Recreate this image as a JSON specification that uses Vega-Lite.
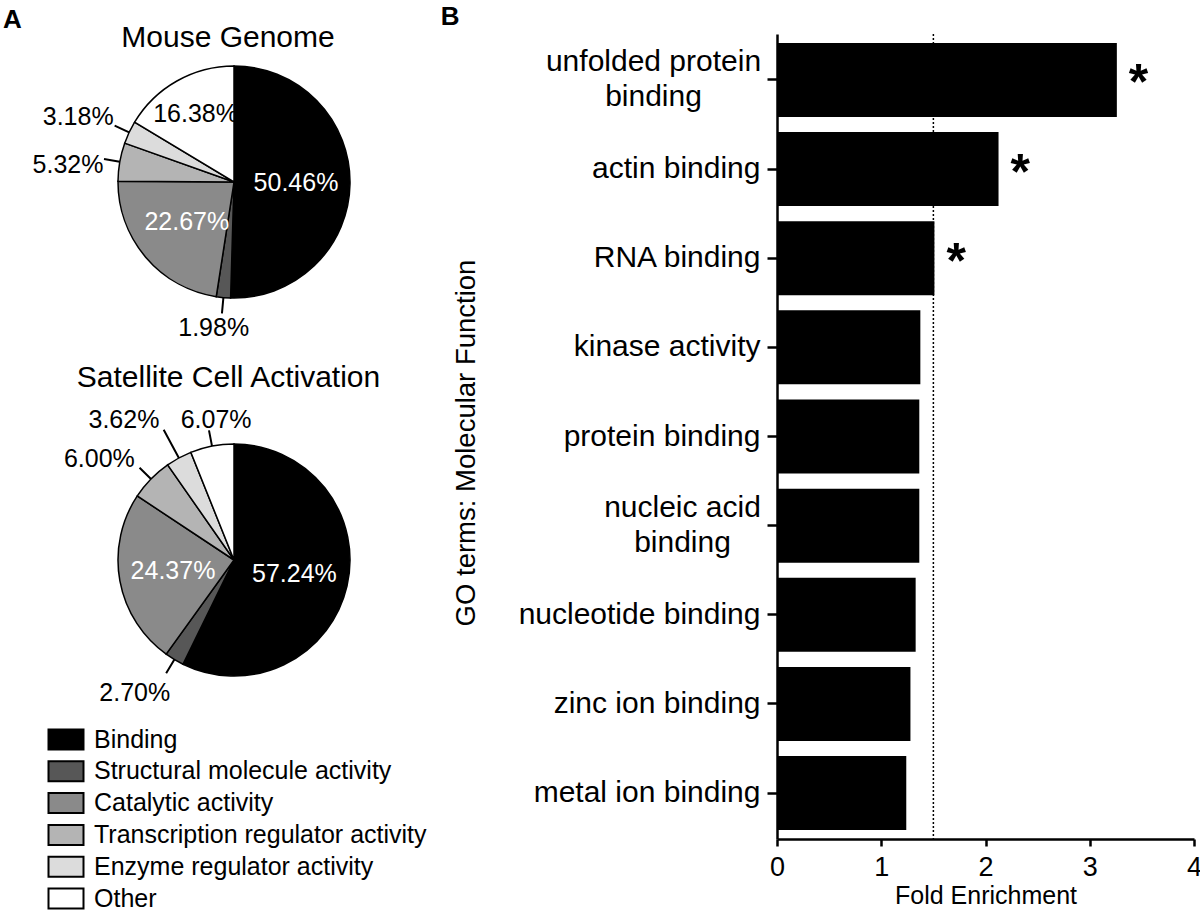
{
  "$schema": "https://vega.github.io/schema/vega-lite/v6.json",
  "background": "white",
  "padding": {"left": 2, "top": 4, "right": 0, "bottom": 0},
  "config": {
    "font": "Liberation Sans",
    "view": {"stroke": null},
    "title": {"color": "black", "font": "Liberation Sans"},
    "axis": {"labelFont": "Liberation Sans", "titleFont": "Liberation Sans", "labelColor": "black", "titleColor": "black", "grid": false}
  },
  "datasets": {
    "pies": [
      {"chart": "Mouse Genome", "cat": "Binding", "k": 1, "share": 0.5046},
      {"chart": "Mouse Genome", "cat": "Structural molecule activity", "k": 2, "share": 0.0198},
      {"chart": "Mouse Genome", "cat": "Catalytic activity", "k": 3, "share": 0.2267},
      {"chart": "Mouse Genome", "cat": "Transcription regulator activity", "k": 4, "share": 0.0532},
      {"chart": "Mouse Genome", "cat": "Enzyme regulator activity", "k": 5, "share": 0.0318},
      {"chart": "Mouse Genome", "cat": "Other", "k": 6, "share": 0.1638},
      {"chart": "Satellite Cell Activation", "cat": "Binding", "k": 1, "share": 0.5724},
      {"chart": "Satellite Cell Activation", "cat": "Structural molecule activity", "k": 2, "share": 0.0270},
      {"chart": "Satellite Cell Activation", "cat": "Catalytic activity", "k": 3, "share": 0.2437},
      {"chart": "Satellite Cell Activation", "cat": "Transcription regulator activity", "k": 4, "share": 0.0600},
      {"chart": "Satellite Cell Activation", "cat": "Enzyme regulator activity", "k": 5, "share": 0.0362},
      {"chart": "Satellite Cell Activation", "cat": "Other", "k": 6, "share": 0.0607}
    ],
    "terms": [
      {"term": "unfolded protein binding", "fold": 3.26, "sig": "*"},
      {"term": "actin binding", "fold": 2.125, "sig": "*"},
      {"term": "RNA binding", "fold": 1.51, "sig": "*"},
      {"term": "kinase activity", "fold": 1.375, "sig": ""},
      {"term": "protein binding", "fold": 1.365, "sig": ""},
      {"term": "nucleic acid binding", "fold": 1.365, "sig": ""},
      {"term": "nucleotide binding", "fold": 1.33, "sig": ""},
      {"term": "zinc ion binding", "fold": 1.28, "sig": ""},
      {"term": "metal ion binding", "fold": 1.24, "sig": ""}
    ]
  },
  "spacing": 36,
  "hconcat": [
    {
      "title": {"text": "A", "anchor": "start", "frame": "bounds", "fontSize": 26, "fontWeight": "bold", "dx": -29.6, "offset": -30.7, "baseline": "alphabetic"},
      "spacing": 82,
      "bounds": "flush",
      "vconcat": [
        {
          "width": 340, "height": 296,
          "title": {"text": "Mouse Genome", "fontSize": 30, "fontWeight": "normal", "anchor": "middle", "frame": "group", "dx": -6, "offset": -43, "baseline": "alphabetic"},
          "data": {"name": "pies"},
          "transform": [{"filter": "datum.chart == 'Mouse Genome'"}],
          "encoding": {
            "theta": {"field": "share", "type": "quantitative", "stack": true},
            "order": {"field": "k", "type": "quantitative"},
            "detail": {"field": "cat", "type": "nominal"}
          },
          "layer": [
            {"mark": {"type": "arc", "radius": 116, "stroke": "black", "strokeWidth": 1.5},
             "encoding": {"color": {"field": "cat", "type": "nominal",
               "scale": {"domain": ["Binding", "Structural molecule activity", "Catalytic activity", "Transcription regulator activity", "Enzyme regulator activity", "Other"], "range": ["#000000", "#575757", "#8a8a8a", "#b4b4b4", "#dcdcdc", "#ffffff"]},
               "legend": {"title": null, "orient": "none", "legendX": -18, "legendY": 693, "symbolType": "M-1,-1H2.5V1H-1Z", "symbolSize": 400, "symbolStrokeColor": "black", "symbolStrokeWidth": 2, "symbolOpacity": 1, "labelFontSize": 25, "labelFont": "Liberation Sans", "labelColor": "black", "labelOffset": 23, "rowPadding": 2.8, "padding": 0, "labelLimit": 600}}}},
            {"mark": {"type": "arc", "radius": 132, "radius2": 116, "padAngle": 3.14, "stroke": "black", "strokeWidth": 2, "fill": "transparent"},
             "encoding": {"strokeOpacity": {"condition": {"test": "datum.share < 0.1", "value": 1}, "value": 0}}},
            {"mark": {"type": "text", "radius": 62, "color": "white", "align": "center", "baseline": "middle"},
             "encoding": {"text": {"condition": {"test": "datum.share >= 0.1 && datum.cat != 'Other'", "field": "share", "type": "quantitative", "format": ".2%"}, "value": ""},
                          "size": {"condition": {"test": "datum.share >= 0.1 && datum.cat != 'Other'", "value": 25}, "value": 0}}},
            {"mark": {"type": "text", "radius": 78, "color": "black", "align": "center", "baseline": "middle"},
             "encoding": {"text": {"condition": {"test": "datum.cat == 'Other'", "field": "share", "type": "quantitative", "format": ".2%"}, "value": ""},
                          "size": {"condition": {"test": "datum.cat == 'Other'", "value": 25}, "value": 0}}},
            {"mark": {"type": "text", "radius": 169, "dx": -3, "dy": 7.5, "color": "black", "align": "center", "baseline": "middle"},
             "encoding": {"text": {"condition": {"test": "datum.cat == 'Enzyme regulator activity'", "field": "share", "type": "quantitative", "format": ".2%"}, "value": ""},
                          "size": {"condition": {"test": "datum.cat == 'Enzyme regulator activity'", "value": 25}, "value": 0}}},
            {"mark": {"type": "text", "radius": 167, "dx": -1.5, "dy": 12, "color": "black", "align": "center", "baseline": "middle"},
             "encoding": {"text": {"condition": {"test": "datum.cat == 'Transcription regulator activity'", "field": "share", "type": "quantitative", "format": ".2%"}, "value": ""},
                          "size": {"condition": {"test": "datum.cat == 'Transcription regulator activity'", "value": 25}, "value": 0}}},
            {"mark": {"type": "text", "radius": 146, "dx": -7, "dy": 0.5, "color": "black", "align": "center", "baseline": "middle"},
             "encoding": {"text": {"condition": {"test": "datum.cat == 'Structural molecule activity'", "field": "share", "type": "quantitative", "format": ".2%"}, "value": ""},
                          "size": {"condition": {"test": "datum.cat == 'Structural molecule activity'", "value": 25}, "value": 0}}}
          ]
        },
        {
          "width": 340, "height": 296,
          "title": {"text": "Satellite Cell Activation", "fontSize": 30, "fontWeight": "normal", "anchor": "middle", "frame": "group", "dx": -5.5, "offset": -25.2, "baseline": "alphabetic"},
          "data": {"name": "pies"},
          "transform": [{"filter": "datum.chart == 'Satellite Cell Activation'"}],
          "encoding": {
            "theta": {"field": "share", "type": "quantitative", "stack": true},
            "order": {"field": "k", "type": "quantitative"},
            "detail": {"field": "cat", "type": "nominal"}
          },
          "layer": [
            {"mark": {"type": "arc", "radius": 116, "stroke": "black", "strokeWidth": 1.5},
             "encoding": {"color": {"field": "cat", "type": "nominal",
               "scale": {"domain": ["Binding", "Structural molecule activity", "Catalytic activity", "Transcription regulator activity", "Enzyme regulator activity", "Other"], "range": ["#000000", "#575757", "#8a8a8a", "#b4b4b4", "#dcdcdc", "#ffffff"]},
               "legend": {"title": null, "orient": "none", "legendX": -18, "legendY": 693, "symbolType": "M-1,-1H2.5V1H-1Z", "symbolSize": 400, "symbolStrokeColor": "black", "symbolStrokeWidth": 2, "symbolOpacity": 1, "labelFontSize": 25, "labelFont": "Liberation Sans", "labelColor": "black", "labelOffset": 23, "rowPadding": 2.8, "padding": 0, "labelLimit": 600}}}},
            {"mark": {"type": "arc", "radius": 132, "radius2": 116, "padAngle": 3.14, "stroke": "black", "strokeWidth": 2, "fill": "transparent"},
             "encoding": {"strokeOpacity": {"condition": {"test": "datum.share < 0.1 && datum.cat != 'Enzyme regulator activity'", "value": 1}, "value": 0}}},
            {"mark": {"type": "arc", "radius": 148, "radius2": 116, "padAngle": 3.14, "stroke": "black", "strokeWidth": 2, "fill": "transparent"},
             "encoding": {"strokeOpacity": {"condition": {"test": "datum.cat == 'Enzyme regulator activity'", "value": 1}, "value": 0}}},
            {"mark": {"type": "text", "radius": 62, "color": "white", "align": "center", "baseline": "middle"},
             "encoding": {"text": {"condition": {"test": "datum.share >= 0.1", "field": "share", "type": "quantitative", "format": ".2%"}, "value": ""},
                          "size": {"condition": {"test": "datum.share >= 0.1", "value": 25}, "value": 0}}},
            {"mark": {"type": "text", "radius": 142, "dx": 9, "dy": -0.5, "color": "black", "align": "center", "baseline": "middle"},
             "encoding": {"text": {"condition": {"test": "datum.cat == 'Other'", "field": "share", "type": "quantitative", "format": ".2%"}, "value": ""},
                          "size": {"condition": {"test": "datum.cat == 'Other'", "value": 25}, "value": 0}}},
            {"mark": {"type": "text", "radius": 179, "dx": -25, "dy": 17.5, "color": "black", "align": "center", "baseline": "middle"},
             "encoding": {"text": {"condition": {"test": "datum.cat == 'Enzyme regulator activity'", "field": "share", "type": "quantitative", "format": ".2%"}, "value": ""},
                          "size": {"condition": {"test": "datum.cat == 'Enzyme regulator activity'", "value": 25}, "value": 0}}},
            {"mark": {"type": "text", "radius": 170, "dx": -13, "dy": 17.5, "color": "black", "align": "center", "baseline": "middle"},
             "encoding": {"text": {"condition": {"test": "datum.cat == 'Transcription regulator activity'", "field": "share", "type": "quantitative", "format": ".2%"}, "value": ""},
                          "size": {"condition": {"test": "datum.cat == 'Transcription regulator activity'", "value": 25}, "value": 0}}},
            {"mark": {"type": "text", "radius": 164, "dx": -15, "dy": -7.2, "color": "black", "align": "center", "baseline": "middle"},
             "encoding": {"text": {"condition": {"test": "datum.cat == 'Structural molecule activity'", "field": "share", "type": "quantitative", "format": ".2%"}, "value": ""},
                          "size": {"condition": {"test": "datum.cat == 'Structural molecule activity'", "value": 25}, "value": 0}}}
          ]
        }
      ]
    },
    {
      "width": 417, "height": 805,
      "title": {"text": "B", "anchor": "start", "frame": "bounds", "fontSize": 26, "fontWeight": "bold", "dx": -11.5, "offset": -18, "baseline": "alphabetic"},
      "data": {"name": "terms"},
      "layer": [
        {"mark": {"type": "bar", "color": "black"},
         "encoding": {
           "y": {"field": "term", "type": "nominal", "sort": null,
                 "scale": {"paddingInner": 0.17, "paddingOuter": 0.1},
                 "axis": {"title": "GO terms: Molecular Function", "titleFontSize": 27.5, "titleFontWeight": "normal", "titlePadding": 38, "maxExtent": 400, "titleY": 408.5,
                          "labelFontSize": 30, "labelLimit": 500, "labelLineHeight": 35, "labelBaseline": "middle",
                          "labelAlign": {"condition": {"test": "datum.value == 'unfolded protein binding' || datum.value == 'nucleic acid binding'", "value": "center"}, "value": "right"},
                          "labelPadding": {"condition": [{"test": "datum.value == 'unfolded protein binding'", "value": 114}, {"test": "datum.value == 'nucleic acid binding'", "value": 85}], "value": 7},
                          "labelOffset": {"condition": {"test": "datum.value == 'unfolded protein binding' || datum.value == 'nucleic acid binding'", "value": -17.5}, "value": 0},
                          "labelExpr": "datum.value == 'unfolded protein binding' ? ['unfolded protein', 'binding'] : datum.value == 'nucleic acid binding' ? ['nucleic acid', 'binding'] : datum.value",
                          "domainColor": "black", "domainWidth": 2.5, "tickColor": "black", "tickWidth": 2.5, "tickSize": 10}},
           "x": {"field": "fold", "type": "quantitative",
                 "scale": {"domain": [0, 4], "nice": false},
                 "axis": {"title": "Fold Enrichment", "titleFontSize": 25, "titleFontWeight": "normal", "titlePadding": 3, "format": "d",
                          "values": [0, 1, 2, 3, 4], "labelFontSize": 27, "labelPadding": 8, "labelFlush": false,
                          "domainColor": "black", "domainWidth": 2.5, "tickColor": "black", "tickWidth": 2.5, "tickSize": 7}}
         }},
        {"data": {"values": [{"threshold": 1.5}]},
         "mark": {"type": "rule", "color": "black", "strokeWidth": 1.5, "strokeDash": [2, 2]},
         "encoding": {"x": {"field": "threshold", "type": "quantitative"}}},
        {"mark": {"type": "text", "align": "left", "baseline": "alphabetic", "dx": 12, "dy": 19.5, "fontSize": 50, "fontWeight": "bold", "color": "black"},
         "encoding": {
           "y": {"field": "term", "type": "nominal", "sort": null},
           "x": {"field": "fold", "type": "quantitative"},
           "text": {"field": "sig"}
         }}
      ]
    }
  ]
}
